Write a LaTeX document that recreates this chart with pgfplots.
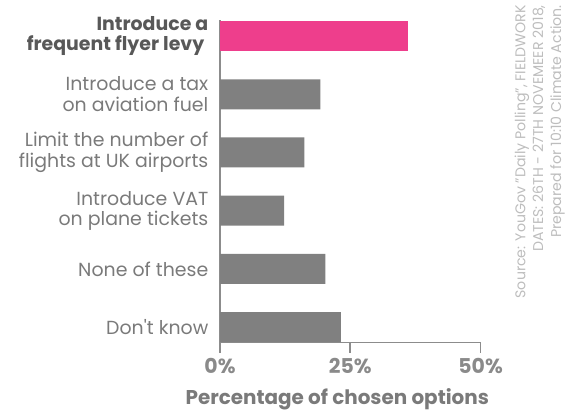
\documentclass[border=0pt]{standalone}
\usepackage{pgfplots}
\pgfplotsset{compat=1.18}
\usepackage{fontspec}
\setmainfont{Poppins}
\definecolor{levypink}{HTML}{EE3E8C}
\definecolor{bargray}{HTML}{808080}
\definecolor{labgray}{HTML}{7A7A7A}
\definecolor{darkgray}{HTML}{585858}
\definecolor{tickgray}{HTML}{8A8A8A}
\definecolor{srcgray}{HTML}{BDBDBD}
\definecolor{axgray}{HTML}{8C8C8C}

\begin{document}
\begin{tikzpicture}
\useasboundingbox (0,0) rectangle (566bp,412bp);
\begin{axis}[
    at={(220bp,69.5bp)}, anchor=south west,
    scale only axis,
    width=260.6bp, height=322.5bp,
    xbar, bar width=30bp, bar shift=0pt,
    xmin=0, xmax=50,
    ymin=-0.275, ymax=5.263,
    y dir=reverse,
    axis x line=bottom, axis y line=left,
    axis line style={axgray, line width=1.6bp, -},
    xtick={0,25,50},
    xticklabels={0\%,25\%,50\%},
    x tick style={axgray, line width=1.6bp},
    tick align=outside,
    major tick length=10bp,
    xticklabel style={font=\fontsize{20.5}{20.5}\selectfont\bfseries, text=tickgray, anchor=north, inner sep=0pt, yshift=-6bp},
    ytick={0,1,2,3,4,5},
    yticklabels={
      {\color{darkgray}\bfseries Introduce a\\\color{darkgray}\bfseries frequent flyer levy\ },
      {Introduce a tax\\on aviation fuel},
      {Limit the number of\\flights at UK airports},
      {Introduce VAT\\on plane tickets},
      {None of these},
      {Don\textquotesingle t know}},
    y tick style={draw=none},
    yticklabel style={font=\fontsize{19}{20.5}\selectfont, text=labgray, align=right, anchor=east, inner sep=0pt, xshift=-1.5bp},
    xlabel={Percentage of chosen options},
    xlabel style={font=\fontsize{20}{20}\selectfont\bfseries, text=labgray, at={(axis description cs:0.45,0)}, anchor=north, inner sep=0pt, yshift=-45.5bp},
]
\addplot[fill=levypink, draw=none] coordinates {(36.0,0)};
\addplot[fill=bargray, draw=none] coordinates {(19.25,1) (16.2,2) (12.3,3) (20.2,4) (23.2,5)};
\draw[axgray, line width=1.6bp] (rel axis cs:0,0) -- ++(0,-10bp);
\end{axis}
\node[rotate=90, anchor=south east, align=right, inner sep=0pt, text=srcgray,
      font=\fontsize{14.2}{18}\selectfont] at (565bp,407bp)
  {Source: YouGov ''Daily Polling'', FIELDWORK\\DATES: 26TH - 27TH NOVEMEER 2018,\\Prepared for 10:10 Climate Action.};
\end{tikzpicture}
\end{document}
